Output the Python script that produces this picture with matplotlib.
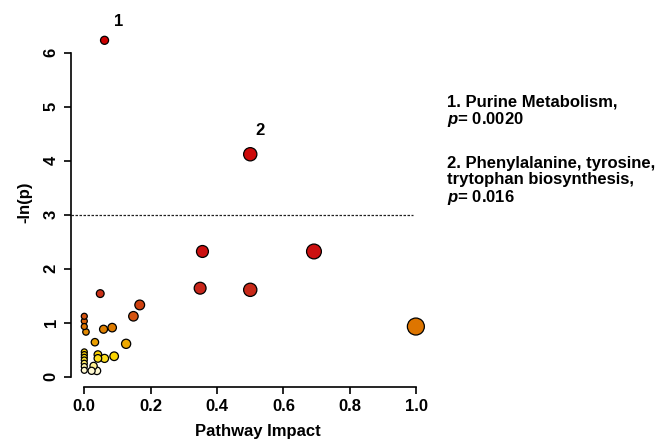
import numpy as np
import matplotlib
matplotlib.use('Agg')
import matplotlib.pyplot as plt
from matplotlib.colors import LinearSegmentedColormap

# pathway impact (x) and -ln(p) (y)
impact = [0.061, 0.50, 0.356, 0.692, 0.349, 0.50, 0.999, 0.048, 0.167, 0.148,
          0.084, 0.058, 0.032, 0.126, 0.090, 0.061, 0.041, 0.041, 0.028, 0.022,
          0.038, 0.0, 0.0, 0.0, 0.005, 0.0, 0.0, 0.0, 0.0, 0.0, 0.0, 0.0]
neglogp = [6.23, 4.12, 2.32, 2.32, 1.64, 1.61, 0.93, 1.54, 1.33, 1.12,
           0.91, 0.88, 0.64, 0.61, 0.38, 0.34, 0.41, 0.34, 0.20, 0.11,
           0.11, 1.12, 1.03, 0.93, 0.83, 0.46, 0.41, 0.36, 0.31, 0.25, 0.19, 0.12]

labels = {'1': (0.103, 6.57), '2': (0.53, 4.56)}
threshold_p = 0.05

notes = ['1. Purine Metabolism,', '$p$= 0.0020',
         '2. Phenylalanine, tyrosine,', 'trytophan biosynthesis,', '$p$= 0.016']

plt.rcParams['font.family'] = 'Liberation Sans'
plt.rcParams['font.weight'] = 'bold'
plt.rcParams['mathtext.fontset'] = 'custom'
plt.rcParams['mathtext.it'] = 'Liberation Sans:italic:bold'
plt.rcParams['mathtext.rm'] = 'Liberation Sans:bold'

# heat-like colour scale keyed on -ln(p)
nodes = [(0.0, '#fffff4'), (0.15, '#fff6c0'), (0.25, '#ffea60'), (0.35, '#fcd800'),
         (0.5, '#f5c000'), (0.62, '#eca200'), (0.85, '#e08400'), (0.95, '#dc6c00'),
         (1.1, '#d45410'), (1.35, '#cf4010'), (1.55, '#c93018'), (1.65, '#c8241a'),
         (2.3, '#cc1010'), (6.3, '#cc0000')]
vmax = 6.3
heat = LinearSegmentedColormap.from_list('heat', [(v / vmax, c) for v, c in nodes])

x = np.array(impact)
y = np.array(neglogp)
diam_px = 6 + 11 * x ** 0.6
sizes = (diam_px * 0.72) ** 2
order = np.argsort(-sizes)

fig = plt.figure(figsize=(6.7, 4.41), dpi=100)
ax = fig.add_axes([0.106, 0.123, 0.535, 0.815])

ax.scatter(x[order], y[order], s=sizes[order], c=y[order], cmap=heat, vmin=0, vmax=vmax,
           edgecolors='black', linewidths=0.9, zorder=3, clip_on=False)

ax.hlines(-np.log(threshold_p), -0.04, 0.99, colors='#222222', linewidth=0.9,
          linestyles=(0, (2, 1.2)))

for k, (lx, ly) in labels.items():
    ax.text(lx, ly, k, fontsize=12, fontweight='bold', ha='center', va='center', clip_on=False)

ax.set_xlim(-0.04, 1.04)
ax.set_ylim(-0.185, 6.47)
ax.set_xticks([0, 0.2, 0.4, 0.6, 0.8, 1.0])
ax.set_xticklabels(['0.0', '0.2', '0.4', '0.6', '0.8', '1.0'])
ax.set_yticks(range(7))

for s in ['top', 'right']:
    ax.spines[s].set_visible(False)
ax.spines['left'].set_bounds(0, 6)
ax.spines['bottom'].set_bounds(0, 1)
for s in ['left', 'bottom']:
    ax.spines[s].set_linewidth(1.2)

ax.tick_params(axis='both', length=5, width=1.2, labelsize=12, pad=4)
plt.setp(ax.get_yticklabels(), rotation=90, va='center')

ax.set_xlabel('Pathway Impact', fontsize=12, fontweight='bold')
ax.set_ylabel('-ln(p)', fontsize=12, fontweight='bold')
ax.xaxis.set_label_coords(0.522, -0.105)
ax.yaxis.set_label_coords(-0.128, 0.512)
ax.yaxis.label.set_va('center')

baselines = [106.7, 124.3, 167.7, 184.3, 202.3]
for t, b in zip(notes, baselines):
    fig.text(447 / 670, 1 - b / 441, t, fontsize=12, fontweight='bold', va='baseline')

fig.savefig('out.png', dpi=100)
